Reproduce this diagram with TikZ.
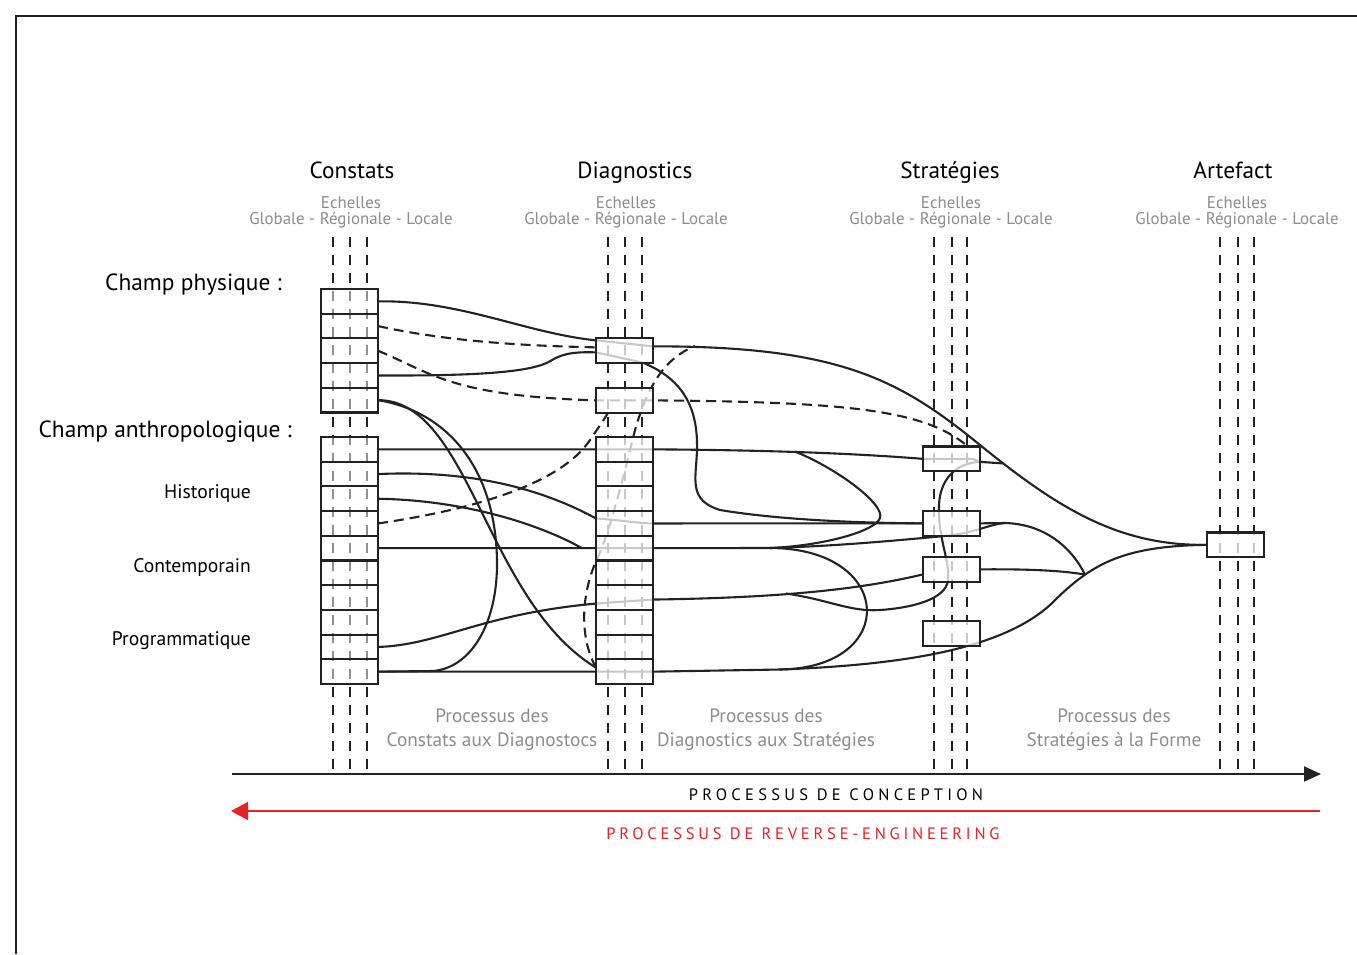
\documentclass[tikz,border=0pt]{standalone}
\usepackage{fontspec}
\setmainfont{PT Sans}
\usetikzlibrary{arrows.meta,calc}
\pgfdeclarelayer{bg}
\pgfsetlayers{bg,main}
\definecolor{ink}{HTML}{222222}
\definecolor{greytext}{HTML}{8C8C8C}
\definecolor{redline}{HTML}{E62129}
\begin{document}
\begin{tikzpicture}[x=1pt,y=-1pt,
  box/.style={draw=ink, line width=2.1pt, fill=white, minimum width=57pt, minimum height=24.7pt, inner sep=0pt, outer sep=0pt, anchor=north west},
  cbox/.style={box, fill opacity=0.5},
  obox/.style={box, fill opacity=0.75},
  sline/.style={draw=ink, line width=1.9pt, dash pattern=on 10pt off 8pt},
  link/.style={draw=ink, line width=2.1pt},
  dlink/.style={link, dash pattern=on 10pt off 6pt},
  head/.style={font=\fontsize{23.3}{27}\selectfont, text=black, anchor=base, inner sep=0pt},
  scaletxt/.style={font=\fontsize{16.9}{19}\selectfont, text=greytext, anchor=base, inner sep=0pt},
  champ/.style={font=\fontsize{23.4}{27}\selectfont, text=black, anchor=base east, inner sep=0pt},
  sublab/.style={font=\fontsize{19.6}{23}\selectfont, text=black, anchor=base east, inner sep=0pt},
  proc/.style={font=\fontsize{19.3}{23}\selectfont, text=greytext, anchor=base, inner sep=0pt},
  caps/.style={font={\fontsize{16.5}{20}\selectfont\addfontfeatures{LetterSpace=26}}, anchor=base, inner sep=0pt},
  redcaps/.style={font={\fontsize{16.5}{20}\selectfont\addfontfeatures{LetterSpace=23}}, anchor=base, inner sep=0pt}
]
\useasboundingbox (0,0) rectangle (1357,954);

% frame
\coordinate (f0) at (16,954); \coordinate (f1) at (16,16); \coordinate (f2) at (1357,16);
\draw[ink, line width=1.5pt] (f0) -- (f1) -- (f2);

% headers
\node[head] (hC) at (352,178) {Constats};
\node[head] (hD) at (635,178) {Diagnostics};
\node[head] (hS) at (950,178) {Stratégies};
\node[head] (hA) at (1233,178) {Artefact};
\foreach \x/\n in {351/C,626/D,951/S,1237/A}{
  \node[scaletxt] (e1\n) at (\x,208) {Echelles};
  \node[scaletxt] (e2\n) at (\x,224.5) {Globale - Régionale - Locale};
}

% left labels
\node[champ] (lphys) at (282,290) {Champ physique :};
\node[champ] (lanth) at (292,437) {Champ anthropologique :};
\node[sublab] (lhist) at (251,498) {Historique};
\node[sublab] (lcont) at (251,572) {Contemporain};
\node[sublab] (lprog) at (251,645.5) {Programmatique};

% process labels
\node[proc] (p1a) at (492,722.5) {Processus des};
\node[proc] (p1b) at (492,746.5) {Constats aux Diagnostocs};
\node[proc] (p2a) at (766,722.5) {Processus des};
\node[proc] (p2b) at (766,746.5) {Diagnostics aux Stratégies};
\node[proc] (p3a) at (1114,722.5) {Processus des};
\node[proc] (p3b) at (1114,746.5) {Stratégies à la Forme};
\node[caps, text=black] (pc) at (836,800) {PROCESSUS DE CONCEPTION};
\node[redcaps, text=redline] (pr) at (803,839) {PROCESSUS DE REVERSE-ENGINEERING};

% axes
\coordinate (ax0) at (232,774); \coordinate (ax1) at (1321,774);
\draw[ink, line width=2pt, -{Triangle[length=17pt,width=15pt]}] (ax0) -- (ax1);
\coordinate (rx0) at (1320,811); \coordinate (rx1) at (231,811);
\draw[redline, line width=1.6pt, -{Triangle[length=17pt,width=18pt]}] (rx0) -- (rx1);

% boxes
\foreach \k in {1,...,5} \node[cbox] (cp\k) at (321,{289+24.7*(\k-1)}) {};
\foreach \k in {1,...,10} \node[cbox] (ca\k) at (321,{437+24.7*(\k-1)}) {};
\node[obox] (dp1) at (596,338) {};
\node[obox] (dp2) at (596,388) {};
\foreach \k in {1,...,10} \node[obox] (da\k) at (596,{437+24.7*(\k-1)}) {};
\node[obox] (s1) at (923,446.5) {};
\node[obox] (s2) at (923,511) {};
\node[obox] (s3) at (923,557) {};
\node[obox] (s4) at (923,621) {};
\node[obox] (art) at (1207,532.5) {};

% junction coordinates
\coordinate (j1) at (795,451.5);
\coordinate (j2) at (770,548);
\coordinate (j3) at (1005,523);
\coordinate (j4) at (780,669.5);
\coordinate (j5) at (786,593.5);
\coordinate (j6) at (1085,574.6);
\coordinate (j7) at (1004,463.5);
\coordinate (j8) at (695,346);

% scale lines
\foreach \x [count=\i] in {333,350,367,608,625,642,934,952,967,1220,1238,1254}{
  \coordinate (vt\i) at (\x,237);
  \coordinate (vb\i) at (\x,775);
}

\begin{pgfonlayer}{bg}
\foreach \i in {1,...,12} \draw[sline] (vt\i) -- (vb\i);

% C1 through D1 to artefact
\draw[link] (cp1.east) .. controls (460,300) and (525,333) .. ($(dp1.west)+(0,-10)$) -- ($(dp1.east)+(0,-4)$) .. controls (840,346) and (900,380) .. (980,445) .. controls (1060,510) and (1120,546) .. (art.west);
% C2 dashed
\draw[dlink] (cp2.east) .. controls (450,342) and (530,346) .. ($(dp1.west)+(0,-3)$);
% C3 dashed through D2 to S1
\draw[dlink] (cp3.east) .. controls (430,372) and (450,396) .. (dp2.west) -- (dp2.east) .. controls (850,402) and (925,410) .. ($(s1.north east)+(-12,0)$);
% C4 to D1 then arc to S2
\draw[link] (cp4.east) .. controls (480,376) and (535,372) .. (552,360) .. controls (565,352) and (580,352) .. ($(dp1.west)+(0,2)$) -- ($(dp1.south east)+(-10,0)$) .. controls (685,380) and (698,410) .. (697,450) .. controls (696,480) and (688,500) .. (720,510) .. controls (780,520) and (860,523) .. (s2.west);
% C5 arcs
\draw[link] (cp5.east) .. controls (440,410) and (495,460) .. (497,560) .. controls (498,625) and (470,668) .. (433,671) -- (ca10.east);
\draw[link] (cp5.east) .. controls (470,400) and (485,600) .. ($(da10.west)+(0,-4)$);
% anthro 1 to S1 and out
\draw[link] (ca1.east) -- (da1.west) -- (da1.east) .. controls (760,450) and (850,453) .. (s1.west) -- ($(s1.east)+(-10,0)$) .. controls ($(s1.east)+(-4,0)$) and ($(s1.east)+(-2,3)$) .. ($(s1.east)+(0,3)$) -- (j7);
% bracket
\draw[link] (j1) .. controls (840,470) and (885,505) .. (880,518) .. controls (875,532) and (820,546) .. (j2);
% anthro 2 to D4 to S2
\draw[link] (ca2.east) .. controls (470,470) and (540,488) .. ($(da4.west)+(0,-5)$) .. controls (620,520) and (640,523.5) .. (da4.east) -- (s2.west);
% anthro 3
\draw[link] (ca3.east) .. controls (460,500) and (535,522) .. ($(da5.west)+(-14,0)$);
% anthro 4 dashed
\draw[dlink] (ca4.east) .. controls (470,510) and (560,485) .. (590,440) .. controls (598,428) and (604,420) .. ($(dp2.south west)+(12,0)$);
% long dashed in D column
\draw[dlink] ($(da10.west)+(0,-4)$) .. controls (578,635) and (582,590) .. (598,557) .. controls (612,525) and (625,470) .. (635,430) .. controls (648,385) and (665,358) .. (j8);
% anthro 5
\draw[link] (ca5.east) -- (da5.west) -- (da5.east) -- (j2);
\draw[link] (j2) .. controls (840,546) and (900,540) .. (945,536) .. controls (975,533) and (990,524) .. (j3);
\draw[link] (j2) .. controls (895,548) and (900,668) .. (j4);
% anthro 9 to D7 to S3
\draw[link] (ca9.east) .. controls (440,645) and (480,614) .. ($(da7.west)+(0,6)$) -- ($(da7.east)+(0,2)$) .. controls (760,598) and (850,592) .. ($(s3.west)+(0,5)$);
% S curve
\draw[link] ($(s1.east)+(0,3)$) .. controls (955,463) and (940,480) .. (939,505) .. controls (938,540) and (950,560) .. (948,580) .. controls (946,600) and (910,608) .. (880,610) .. controls (850,612) and (830,600) .. (j5);
% anthro 10 bottom to artefact
\draw[link] (ca10.east) -- (da10.west) -- (da10.east) -- (j4) .. controls (900,665) and (1000,650) .. (1050,605) .. controls (1090,565) and (1120,546) .. (art.west);
% S2 and S3 exits
\draw[link] (s2.east) -- (j3) .. controls (1045,524) and (1072,548) .. (j6);
\draw[link] (s3.east) .. controls (1020,569) and (1060,570) .. (j6);
\end{pgfonlayer}
\end{tikzpicture}
\end{document}
